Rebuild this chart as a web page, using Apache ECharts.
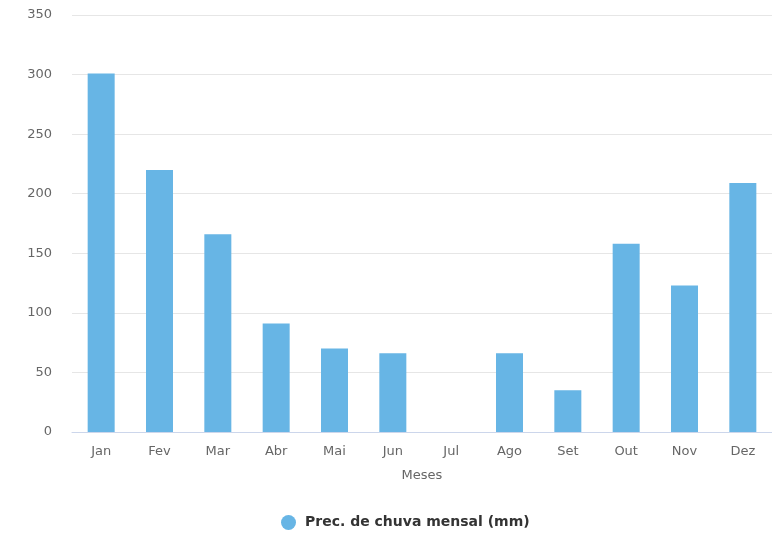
<!DOCTYPE html>
<html>
<head>
<meta charset="utf-8">
<script src="https://cdn.jsdelivr.net/npm/echarts@6/dist/echarts.min.js"></script>
<style>
  html, body { margin: 0; padding: 0; background: #fff; }
  #chart { width: 772px; height: 534px; }
</style>
</head>
<body>
<div id="chart"></div>
<script>
// Monthly rainfall (mm)
const months = ['Jan', 'Fev', 'Mar', 'Abr', 'Mai', 'Jun', 'Jul', 'Ago', 'Set', 'Out', 'Nov', 'Dez'];
const rainfall = [301, 220, 166, 91, 70, 66, 0, 66, 35, 158, 123, 209];
const seriesName = 'Prec. de chuva mensal (mm)';
const xAxisTitle = 'Meses';

const font = '"DejaVu Sans", "Lucida Grande", sans-serif';

const chart = echarts.init(document.getElementById('chart'), null, { renderer: 'canvas' });
chart.setOption({
  backgroundColor: '#ffffff',
  animation: false,
  textStyle: { fontFamily: font },
  grid: { left: 72, top: 15, width: 705, bottom: 102, containLabel: false },
  legend: {
    data: [seriesName],
    top: 515,
    left: 281,
    padding: 0,
    icon: 'circle',
    itemWidth: 15,
    itemHeight: 15,
    itemGap: 6,
    textStyle: { fontFamily: font, fontSize: 14, fontWeight: 'bold', color: '#333333', padding: [0, 0, 0, 4] }
  },
  xAxis: {
    type: 'category',
    data: months,
    name: xAxisTitle,
    nameLocation: 'middle',
    nameGap: 37,
    nameTextStyle: { fontFamily: font, fontSize: 13, color: '#666666' },
    axisLine: { lineStyle: { color: '#ccd6eb' } },
    axisTick: { show: false },
    axisLabel: { fontFamily: font, fontSize: 13, color: '#666666', margin: 13 }
  },
  yAxis: {
    type: 'value',
    min: 0,
    max: 350,
    interval: 50,
    axisLine: { show: false },
    axisTick: { show: false },
    axisLabel: { fontFamily: font, fontSize: 13, color: '#666666', margin: 20 },
    splitLine: { lineStyle: { color: '#e6e6e6' } }
  },
  series: [{
    name: seriesName,
    type: 'bar',
    data: rainfall,
    barWidth: 27,
    itemStyle: { color: '#67b5e5' }
  }]
});
</script>
</body>
</html>
